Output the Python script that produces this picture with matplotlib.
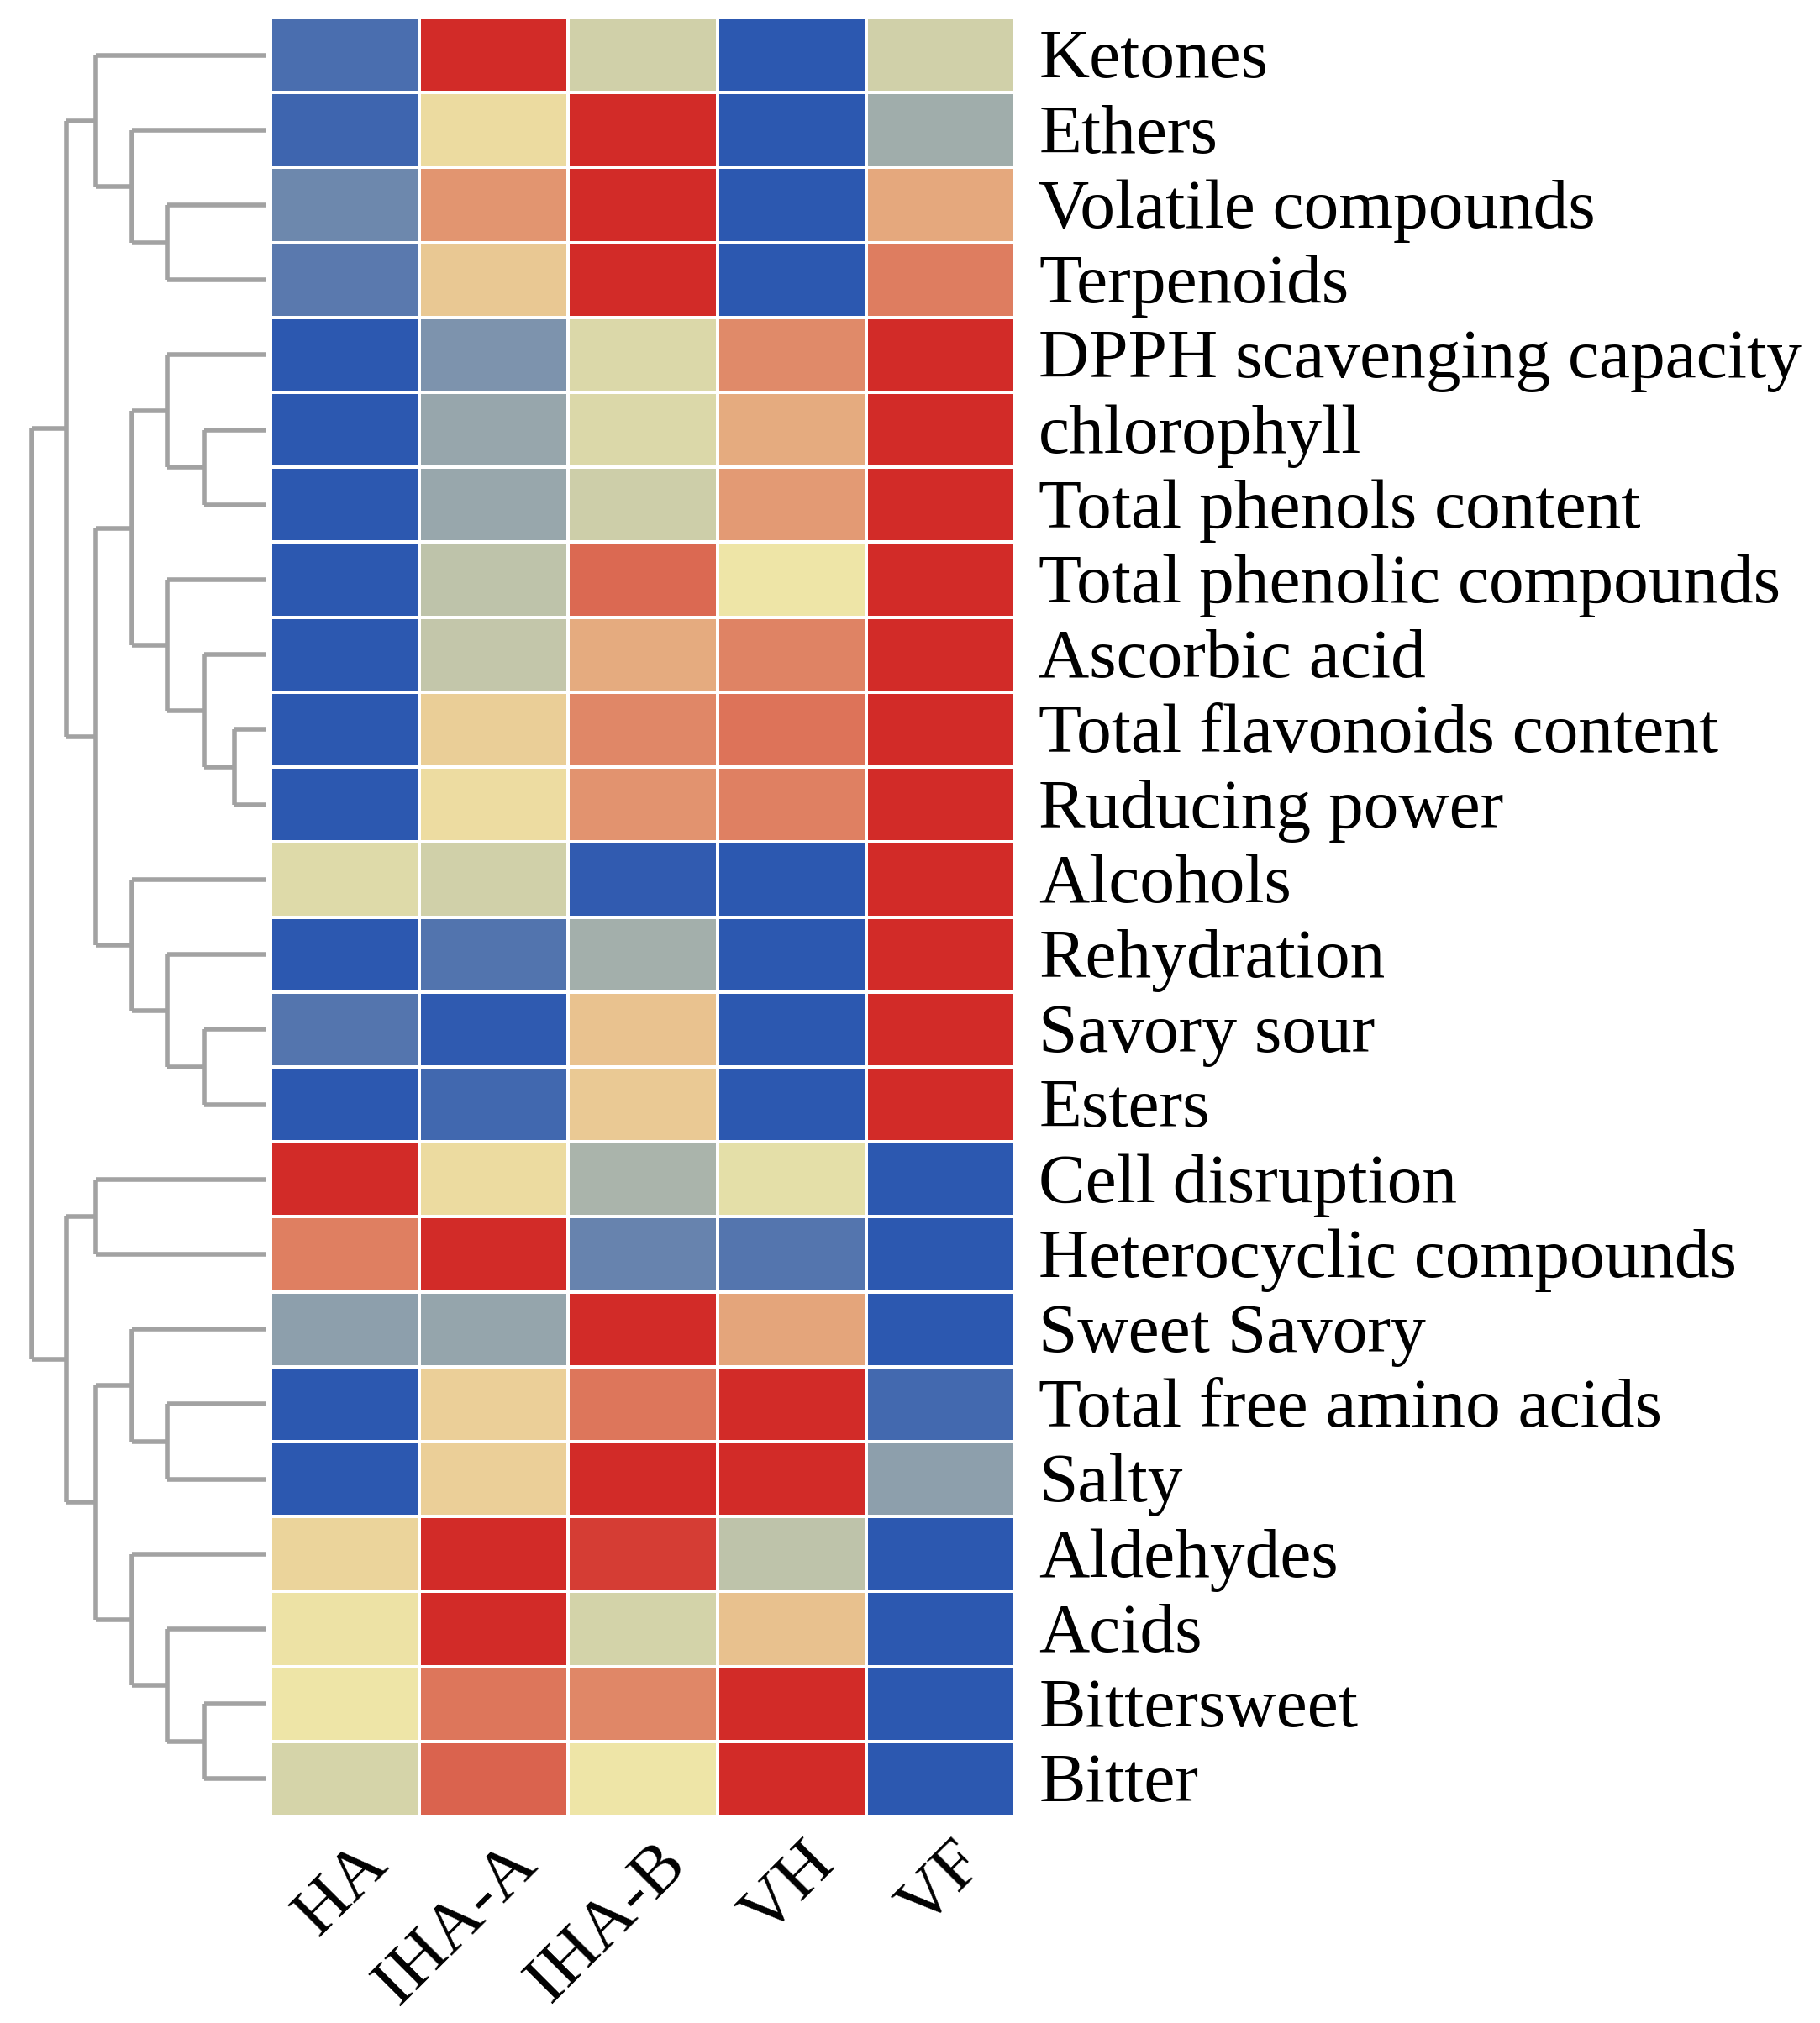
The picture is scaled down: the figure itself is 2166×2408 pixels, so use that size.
"""clustered heatmap of quality indices for the five drying methods"""
import matplotlib
matplotlib.use("Agg")
import matplotlib.pyplot as plt
from matplotlib.colors import LinearSegmentedColormap
import numpy as np

plt.rcParams['font.family'] = ['Liberation Serif', 'DejaVu Serif']

samples = ["HA", "IHA-A", "IHA-B", "VH", "VF"]

indices = [
    "Ketones", "Ethers", "Volatile compounds", "Terpenoids",
    "DPPH scavenging capacity", "chlorophyll", "Total phenols content",
    "Total phenolic compounds", "Ascorbic acid", "Total flavonoids content",
    "Ruducing power", "Alcohols", "Rehydration", "Savory sour", "Esters",
    "Cell disruption", "Heterocyclic compounds", "Sweet Savory",
    "Total free amino acids", "Salty", "Aldehydes", "Acids", "Bittersweet",
    "Bitter",
]

# scaled values, one row per index, columns follow `samples`
scaled = [
    [-0.84, 1.00, -0.15, -1.00, -0.15],
    [-0.90, 0.06, 1.00, -1.00, -0.40],
    [-0.66, 0.43, 1.00, -1.00, 0.33],
    [-0.76, 0.16, 1.00, -1.00, 0.56],
    [-1.00, -0.58, -0.10, 0.49, 1.00],
    [-1.00, -0.45, -0.10, 0.32, 1.00],
    [-1.00, -0.44, -0.17, 0.40, 1.00],
    [-1.00, -0.25, 0.67, 0.00, 1.00],
    [-1.00, -0.22, 0.32, 0.53, 1.00],
    [-1.00, 0.13, 0.50, 0.61, 1.00],
    [-1.00, 0.05, 0.44, 0.54, 1.00],
    [-0.08, -0.15, -0.97, -1.00, 1.00],
    [-1.00, -0.80, -0.39, -1.00, 1.00],
    [-0.79, -0.98, 0.19, -1.00, 1.00],
    [-1.00, -0.89, 0.15, -1.00, 1.00],
    [1.00, 0.06, -0.35, -0.05, -1.00],
    [0.55, 1.00, -0.69, -0.79, -1.00],
    [-0.50, -0.46, 1.00, 0.35, -1.00],
    [-1.00, 0.12, 0.60, 1.00, -0.88],
    [-1.00, 0.12, 1.00, 1.00, -0.50],
    [0.10, 1.00, 0.90, -0.25, -1.00],
    [0.02, 1.00, -0.14, 0.20, -1.00],
    [0.00, 0.60, 0.50, 1.00, -1.00],
    [-0.13, 0.70, 0.00, 1.00, -1.00],
]

# row clustering: (merge height, left, right), leaves are row numbers
row_tree = (282,
            (240,
             (205, 0, (162, 1, (119, 2, 3))),
             (205,
              (162, (119, 4, (75, 5, 6)), (119, 7, (75, 8, (38, 9, 10)))),
              (162, 11, (119, 12, (75, 13, 14))))),
            (240,
             (205, 15, 16),
             (205,
              (162, 17, (119, 18, 19)),
              (162, 20, (119, 21, (75, 22, 23))))))

cmap = LinearSegmentedColormap.from_list("byr", ["#2c58b0", "#eee6a8", "#d22b28"])

W, H = 2166, 2408
fig = plt.figure(figsize=(W / 200, H / 200), dpi=200)

hm_left, hm_right, hm_top, hm_bottom = 322, 1208, 21, 2162
ax = fig.add_axes([hm_left / W, 1 - hm_bottom / H,
                   (hm_right - hm_left) / W, (hm_bottom - hm_top) / H])
ax.pcolormesh(np.array(scaled), cmap=cmap, vmin=-1, vmax=1,
              edgecolors="white", linewidth=1.3)
ax.set_xlim(0, len(samples))
ax.set_ylim(len(indices), 0)
ax.set_xticks([])
ax.set_yticks([])
for s in ax.spines.values():
    s.set_visible(False)

for i, name in enumerate(indices):
    ax.text(len(samples) + 0.16, i + 0.58, name, ha="left", va="center",
            fontsize=30)

for j, name in enumerate(samples):
    ax.text(j + 0.72, len(indices) + 0.5, name, ha="right", va="center",
            rotation=45, rotation_mode="anchor", fontsize=30)

# dendrogram on the left, sharing the row positions
dax = fig.add_axes([0, 1 - hm_bottom / H, 320 / W, (hm_bottom - hm_top) / H])
dax.set_xlim(320, -3)
dax.set_ylim(len(indices), 0)
dax.axis("off")


def draw_node(node):
    """draw a subtree, return (y, height) of its top"""
    if isinstance(node, int):
        return node + 0.5, 0
    h, left, right = node
    yl, hl = draw_node(left)
    yr, hr = draw_node(right)
    kw = dict(color="#a2a2a2", lw=2.0, solid_capstyle="butt")
    dax.plot([hl, h], [yl, yl], **kw)
    dax.plot([hr, h], [yr, yr], **kw)
    dax.plot([h, h], [yl, yr], **kw)
    return (yl + yr) / 2, h


draw_node(row_tree)

fig.savefig("out.png", dpi=200, facecolor="white")
